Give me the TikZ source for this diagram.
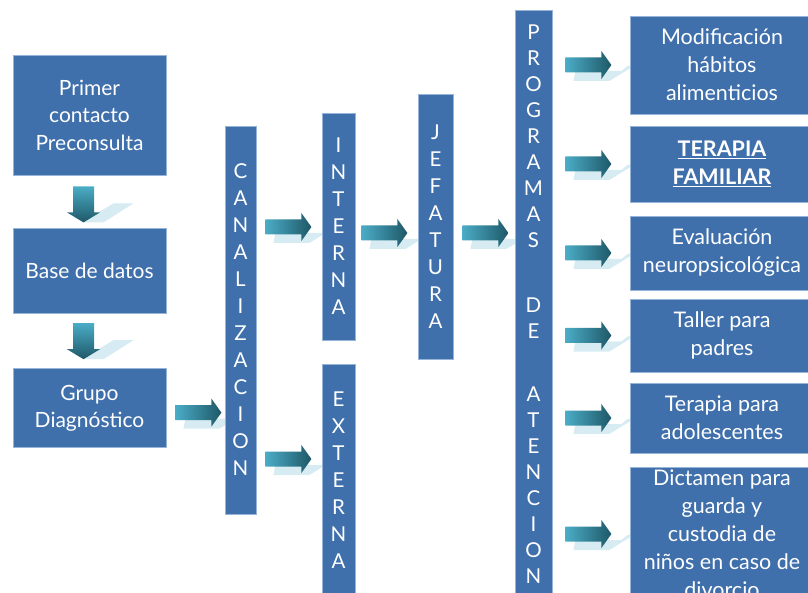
\documentclass[tikz,border=0pt]{standalone}
\usepackage{fontspec}
\setmainfont{Lato}
\usetikzlibrary{calc,positioning}
\pgfdeclarelayer{background}
\pgfsetlayers{background,main}
\definecolor{boxblue}{RGB}{64,112,172}
\definecolor{boxedge}{RGB}{150,180,215}
\definecolor{arrowlight}{RGB}{75,172,198}
\definecolor{arrowdark}{RGB}{30,88,104}
\definecolor{glowblue}{RGB}{214,236,242}
\tikzset{
  stepbox/.style={draw=boxedge,fill=boxblue,text=white,line width=0.8pt,
    align=center,inner sep=0pt,font=\fontsize{21}{27.5}\selectfont},
  letterbar/.style={stepbox,font=\fontsize{20.5}{27}\selectfont},
  sidebox/.style={stepbox,minimum width=184pt,font=\fontsize{21.5}{28}\selectfont},
  harrow/.pic={
    \fill[glowblue] (8,16) -- (44,16) -- (70,0) -- (62,1) -- (56,6) -- (10,6) -- cycle;
    \shade[left color=arrowlight,right color=arrowdark]
      (0,-7.5) -- (36,-7.5) -- (36,-14) -- (46,0) -- (36,14) -- (36,7.5) -- (0,7.5) -- cycle;
  },
  varrow/.pic={
    \fill[glowblue] (-2,36) -- (20,36) -- (50,17) -- (30,17) -- cycle;
    \shade[top color=arrowlight,bottom color=arrowdark]
      (-10.5,0) -- (10.5,0) -- (10.5,26) -- (16.5,26) -- (0,36) -- (-16.5,26)
      -- (-10.5,26) -- cycle;
  }
}

\begin{document}
\begin{tikzpicture}[x=1pt,y=-1pt,node distance=53pt]
  \useasboundingbox (0,0) rectangle (808,593);
  % left column
  \node[stepbox,minimum width=153pt,minimum height=120pt] (primer) at (89.5,115)
    {Primer\\contacto\\Preconsulta};
  \node[stepbox,minimum width=153pt,minimum height=85pt,below=of primer] (base)
    {Base de datos};
  \node[stepbox,minimum width=153pt,minimum height=79pt,below=54pt of base] (grupo)
    {Grupo\\Diagnóstico};
  % vertical bars
  \node[letterbar,minimum width=31pt,minimum height=388pt] (canal) at (240.5,320)
    {C\\A\\N\\A\\L\\I\\Z\\A\\C\\I\\O\\N};
  \node[letterbar,minimum width=33pt,minimum height=227pt] (interna) at (338.5,226.5)
    {I\\N\\T\\E\\R\\N\\A};
  \node[letterbar,minimum width=33pt,minimum height=232pt] (externa) at (338.5,480)
    {E\\X\\T\\E\\R\\N\\A};
  \node[letterbar,minimum width=35pt,minimum height=265pt] (jefatura) at (435.5,226.5)
    {J\\E\\F\\A\\T\\U\\R\\A};
  \node[letterbar,minimum width=37pt,minimum height=588pt,
    font=\fontsize{20.5}{26}\selectfont] (prog) at (533.5,304)
    {P\\R\\O\\G\\R\\A\\M\\A\\S\\[39pt]D\\E\\[37pt]A\\T\\E\\N\\C\\I\\O\\N};
  % programs
  \node[sidebox,minimum height=98pt] (modif) at (722,65)
    {Modificación\\hábitos\\alimenticios};
  \node[sidebox,minimum height=76pt,font=\fontsize{21.5}{28}\selectfont\bfseries] (terapia) at (722,164)
    {\underline{TERAPIA}\\\underline{FAMILIAR}};
  \node[sidebox,minimum height=74pt] (evalua) at (722,253)
    {Evaluación\\neuropsicológica};
  \node[sidebox,minimum height=73pt] (taller) at (722,335.5)
    {Taller para\\padres};
  \node[sidebox,minimum height=70pt] (adoles) at (722,418)
    {Terapia para\\adolescentes};
  \node[sidebox,minimum height=134pt] (dictamen) at (722,534)
    {Dictamen para\\guarda y\\custodia de\\niños en caso de\\divorcio};
  % block arrows, kept behind the boxes
  \begin{pgfonlayer}{background}
    \pic at ($(primer.south)+(-6,11)$) {varrow};
    \pic at ($(base.south)+(-6,9)$) {varrow};
    \pic at ($(grupo.east)+(9,4.5)$) {harrow};
    \pic at ($(canal.east)+(9,-93)$) {harrow};
    \pic at ($(canal.east)+(9,139)$) {harrow};
    \pic at ($(interna.east)+(6,6.5)$) {harrow};
    \pic at ($(jefatura.east)+(9,6.5)$) {harrow};
    \foreach \t in {modif,terapia,evalua,taller,adoles,dictamen}
      \pic at ($(prog.east |- \t.west)+(13,0)$) {harrow};
  \end{pgfonlayer}
\end{tikzpicture}
\end{document}
